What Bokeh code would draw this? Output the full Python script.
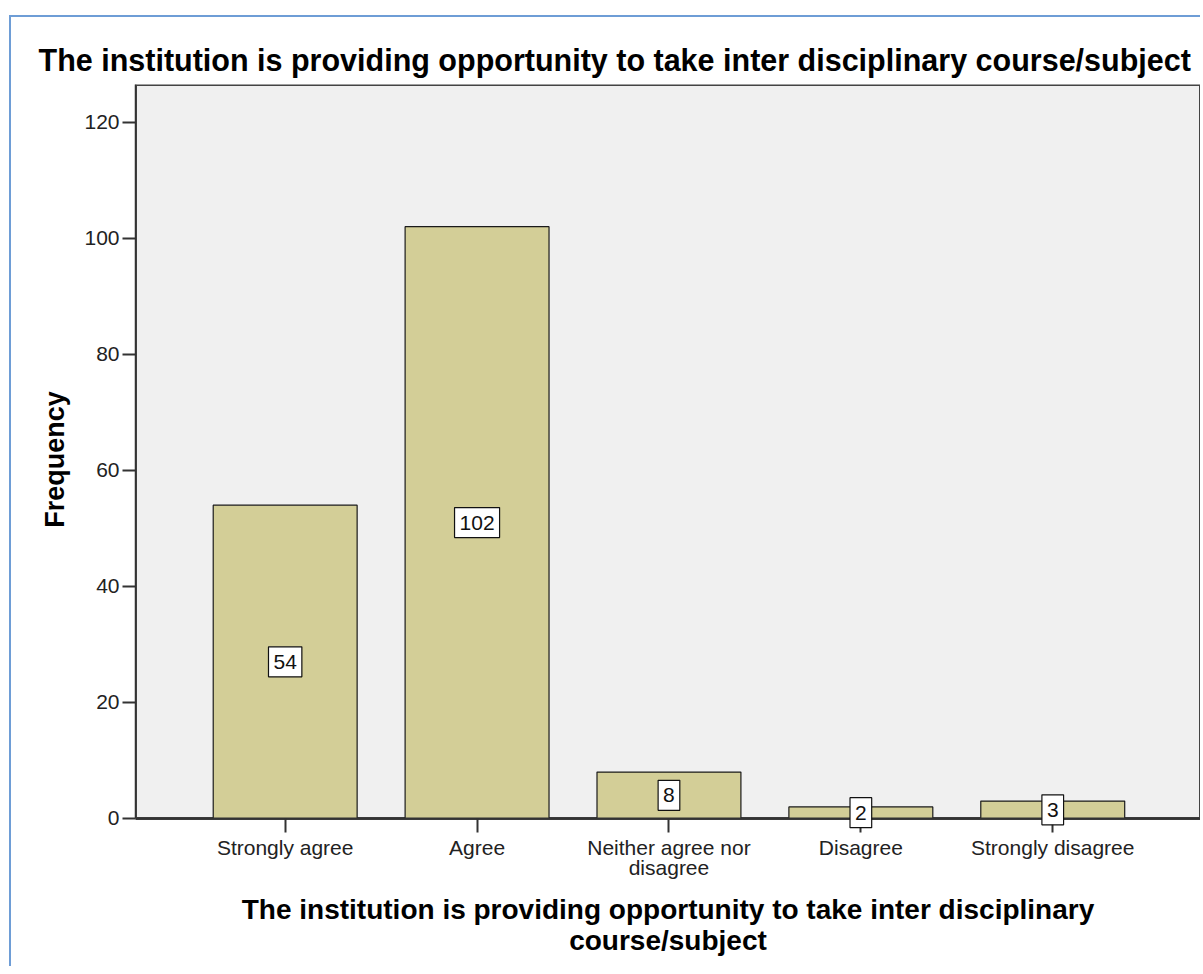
from bokeh.plotting import figure
from bokeh.models import Range1d, FixedTicker, Label, BoxAnnotation, LinearAxis
from bokeh.embed import file_html
from bokeh.resources import INLINE

categories = ["Strongly agree", "Agree", "Neither agree nor\ndisagree", "Disagree", "Strongly disagree"]
frequencies = [54, 102, 8, 2, 3]
y_ticks = [0, 20, 40, 60, 80, 100, 120]

title_text = "The institution is providing opportunity to take inter disciplinary course/subject"
x_title = "The institution is providing opportunity to take inter disciplinary\ncourse/subject"
y_title = "Frequency"

FONT = "Liberation Sans"
BLUE = "#6e9dd6"
Y_TOP = 126.5
Y_BOTTOM = -2.76   # small room under the baseline so value boxes can overhang it
positions = list(range(len(categories)))

p = figure(width=1200, height=966, output_backend="svg", toolbar_location=None,
           x_range=Range1d(-0.78, 4.77), y_range=Range1d(Y_BOTTOM, Y_TOP),
           min_border_left=135, min_border_right=0, min_border_top=84, min_border_bottom=132)

p.styles = {
    "background-color": "white",
    "background-image": f"linear-gradient({BLUE}, {BLUE}), linear-gradient({BLUE}, {BLUE})",
    "background-size": "2px 100%, 100% 2px",
    "background-position": "9px 15px, 9px 15px",
    "background-repeat": "no-repeat",
}

p.background_fill_color = None
p.border_fill_color = None
p.outline_line_color = None
p.xgrid.visible = False
p.ygrid.visible = False

# plot area background and its outline (from the baseline up)
p.add_layout(BoxAnnotation(bottom=0, fill_color="#f0f0f0", fill_alpha=1.0,
                           line_color=None, level="underlay"))
p.add_layout(BoxAnnotation(bottom=0, fill_color=None, line_color="#444444",
                           line_width=3, line_alpha=1.0, level="underlay"))

p.vbar(x=positions, top=frequencies, width=0.75, bottom=0,
       fill_color="#d3ce97", line_color="#1a1a1a", line_width=1.2)

for xi, f in zip(positions, frequencies):
    p.add_layout(Label(x=xi, y=f / 2, text=str(f), text_align="center", text_baseline="middle",
                       text_font=FONT, text_font_size="21px", text_color="#111111",
                       background_fill_color="white", border_line_color="#111111",
                       border_line_width=1.2, padding=dict(left=5, right=5, top=8, bottom=8),
                       level="overlay"))

# baseline axis at y = 0: line and downward ticks only
base_axis = LinearAxis(fixed_location=0, ticker=FixedTicker(ticks=positions),
                       major_label_overrides={i: "" for i in positions},
                       major_label_text_font_size="1px", major_label_standoff=0,
                       major_tick_in=14, major_tick_out=0,
                       major_tick_line_color="#333333", major_tick_line_width=2,
                       minor_tick_line_color=None,
                       axis_line_color="#333333", axis_line_width=2)
p.add_layout(base_axis, "above")

p.title.text = title_text
p.title.text_font = FONT
p.title.text_font_size = "30.5px"
p.title.text_font_style = "bold"
p.title.text_color = "black"
p.title.align = "left"
p.title.offset = -97
p.title.standoff = 16

# category labels and axis title
xa = p.below[0]
xa.ticker = FixedTicker(ticks=positions)
xa.major_label_overrides = {i: c for i, c in zip(positions, categories)}
xa.major_label_text_font = FONT
xa.major_label_text_font_size = "21px"
xa.major_label_text_line_height = 0.9
xa.major_label_text_color = "#222222"
xa.major_label_standoff = 1
xa.major_tick_out = 0
xa.major_tick_in = 0
xa.major_tick_line_color = None
xa.minor_tick_line_color = None
xa.axis_line_color = None
xa.axis_label = x_title
xa.axis_label_text_font = FONT
xa.axis_label_text_font_size = "28px"
xa.axis_label_text_line_height = 1.0
xa.axis_label_text_font_style = "bold"
xa.axis_label_text_color = "black"
xa.axis_label_standoff = 12

ya = p.yaxis[0]
ya.bounds = (0, Y_TOP)
ya.ticker = FixedTicker(ticks=y_ticks)
ya.major_label_text_font = FONT
ya.major_label_text_font_size = "21px"
ya.major_label_text_color = "#222222"
ya.major_label_standoff = 3
ya.major_tick_out = 13
ya.major_tick_in = 0
ya.minor_tick_line_color = None
ya.axis_line_color = "#333333"
ya.axis_line_width = 1.5
ya.major_tick_line_color = "#333333"
ya.major_tick_line_width = 2
ya.axis_label = y_title
ya.axis_label_text_font = FONT
ya.axis_label_text_font_size = "27px"
ya.axis_label_text_font_style = "bold"
ya.axis_label_text_color = "black"
ya.axis_label_standoff = 11

open("out.html", "w").write(file_html(p, INLINE))
